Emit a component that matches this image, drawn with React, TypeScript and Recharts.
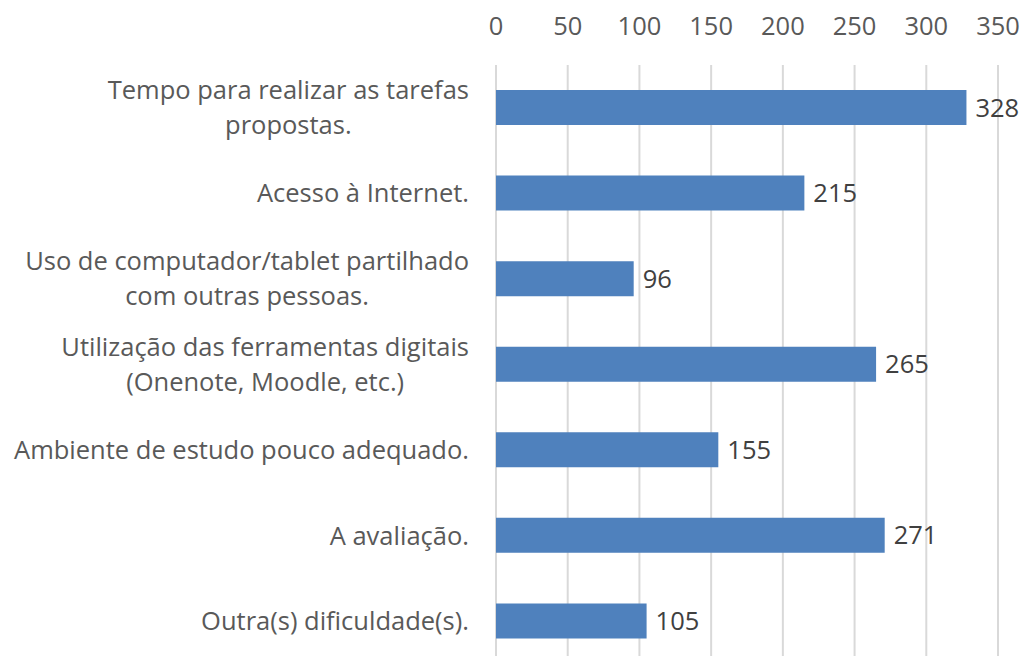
import { BarChart, Bar, XAxis, YAxis, CartesianGrid, LabelList } from 'recharts'

const categories = [
  'Tempo para realizar as tarefas\npropostas.',
  'Acesso à Internet.',
  'Uso de computador/tablet partilhado\ncom outras pessoas.',
  'Utilização das ferramentas digitais\n(Onenote, Moodle, etc.)',
  'Ambiente de estudo pouco adequado.',
  'A avaliação.',
  'Outra(s) dificuldade(s).',
]
const counts = [328, 215, 96, 265, 155, 271, 105]
const xTicks = [0, 50, 100, 150, 200, 250, 300, 350]

const data = categories.map((name, i) => ({ name, value: counts[i] }))

const FONT = '"Open Sans", sans-serif'
const FS = 25.5

let ctx: CanvasRenderingContext2D | null = null
const measure = (s: string) => {
  if (!ctx) ctx = document.createElement('canvas').getContext('2d')
  if (!ctx) return s.length * FS * 0.5
  ctx.font = `${FS}px ${FONT}`
  return ctx.measureText(s).width
}

// labels are right-aligned as a block, lines centred inside it (Excel style)
const CategoryTick = ({ x, y, payload }: any) => {
  const lines = String(payload.value).split('\n')
  const lh = 35
  const start = -((lines.length - 1) * lh) / 2
  const right = x - 19
  const blockW = Math.max(...lines.map(measure))
  const cx = right - blockW / 2
  return (
    <text x={cx} y={y} textAnchor="middle" fill="#595959" fontSize={FS} fontFamily={FONT}>
      {lines.map((l, i) => (
        <tspan key={i} x={cx} dy={i === 0 ? start + 9 : lh}>{l}</tspan>
      ))}
    </text>
  )
}

const ValueTick = ({ x, y, payload }: any) => (
  <text x={x} y={y} dy={-22} textAnchor="middle" fill="#595959" fontSize={FS} fontFamily={FONT}>
    {payload.value}
  </text>
)

export default function App() {
  return (
    <div style={{ position: 'absolute', left: 0, top: 0, width: 1029, height: 656, overflow: 'hidden', background: '#fff' }}>
      <BarChart
        width={1029}
        height={664}
        data={data}
        layout="vertical"
        margin={{ top: 0, right: 31, left: 0, bottom: 0 }}
        barCategoryGap="20%"
      >
        <CartesianGrid horizontal={false} stroke="#d9d9d9" strokeWidth={2} />
        <XAxis
          type="number"
          orientation="top"
          domain={[0, 350]}
          ticks={xTicks}
          height={65}
          axisLine={false}
          tickLine={false}
          tick={<ValueTick />}
        />
        <YAxis
          type="category"
          dataKey="name"
          width={496}
          axisLine={false}
          tickLine={false}
          tick={<CategoryTick />}
          interval={0}
        />
        <Bar dataKey="value" fill="#4f81bd" barSize={35} isAnimationActive={false}>
          <LabelList dataKey="value" position="right" offset={9} fill="#404040" fontSize={FS} fontFamily={FONT} />
        </Bar>
      </BarChart>
    </div>
  )
}
